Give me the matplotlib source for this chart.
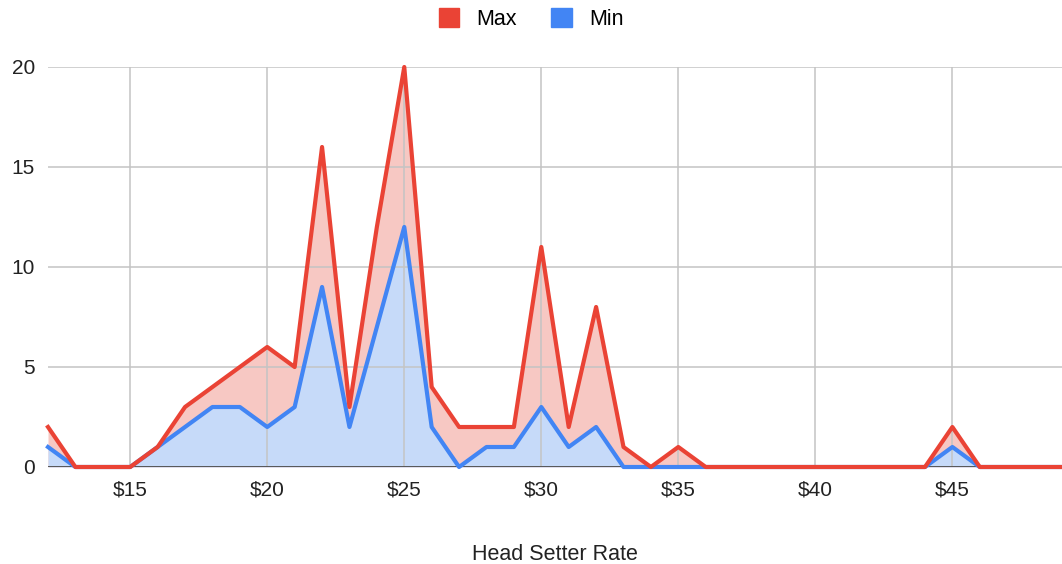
import numpy as np
import matplotlib.pyplot as plt
from matplotlib.patches import Patch

plt.rcParams['font.family'] = ['Liberation Sans', 'DejaVu Sans']

# hourly rate ($12 .. $49)
rate = list(range(12, 50))
max_count = [2, 0, 0, 0, 1, 3, 4, 5, 6, 5, 16, 3, 12, 20, 4, 2, 2, 2, 11, 2,
             8, 1, 0, 1, 0, 0, 0, 0, 0, 0, 0, 0, 0, 2, 0, 0, 0, 0]
min_count = [1, 0, 0, 0, 1, 2, 3, 3, 2, 3, 9, 2, 7, 12, 2, 0, 1, 1, 3, 1,
             2, 0, 0, 0, 0, 0, 0, 0, 0, 0, 0, 0, 0, 1, 0, 0, 0, 0]
xticks = [15, 20, 25, 30, 35, 40, 45]

red = '#EA4335'
blue = '#4285F4'
red_fill = '#F7C8C3'
blue_fill = '#C6DAF9'

fig = plt.figure(figsize=(10.62, 5.64), dpi=100)
ax = fig.add_axes([48 / 1062, 97 / 564, 1 - 48 / 1062, 400 / 564])

ax.fill_between(rate, max_count, 0, color=red_fill, linewidth=0, zorder=1)
ax.fill_between(rate, min_count, 0, color=blue_fill, linewidth=0, zorder=1.1)
ax.plot(rate, min_count, color=blue, lw=3, clip_on=False, zorder=3)
ax.plot(rate, max_count, color=red, lw=3, clip_on=False, zorder=3.1)
ax.axhline(0, color='#444444', lw=1.2, zorder=2)

ax.set_xlim(12, 49)
ax.set_ylim(0, 20)
ax.set_xticks(xticks)
ax.set_xticklabels([f'${v}' for v in xticks])
ax.set_yticks([0, 5, 10, 15, 20])
ax.grid(True, color='#c4c4c4', lw=1.3, alpha=0.85, zorder=1.5)
ax.set_axisbelow('line')
for s in ax.spines.values():
    s.set_visible(False)
ax.tick_params(length=0, labelsize=15, colors='#222222', pad=10)
ax.tick_params(axis='y', pad=9.5)
ax.set_xlabel('Head Setter Rate', fontsize=15.5, color='#222222', labelpad=32)

handles = [Patch(color=red, label='Max'), Patch(color=blue, label='Min')]
fig.legend(handles=handles, loc='upper center', bbox_to_anchor=(0.5, 1.02), ncol=2,
           frameon=False, fontsize=15.5, handlelength=0.95, handleheight=0.95,
           columnspacing=1.6, handletextpad=0.8)

fig.savefig('out.png', dpi=100)
